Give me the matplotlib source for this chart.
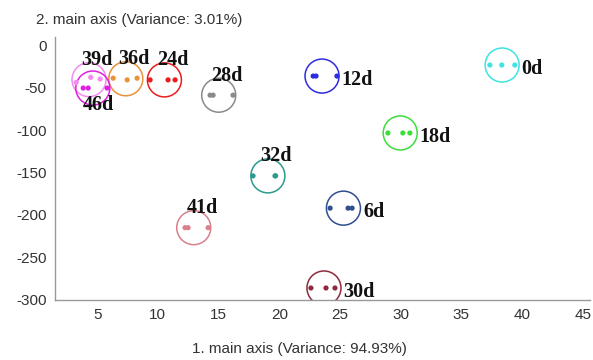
import matplotlib
matplotlib.use("Agg")
import matplotlib.pyplot as plt
import numpy as np

plt.rcParams["axes.unicode_minus"] = False

# Sample groups (storage day) with replicate scores on the first two main axes
groups = ["0d", "6d", "12d", "18d", "24d", "28d", "30d", "32d", "36d", "39d", "41d", "46d"]
pc1 = {
    "0d": [37.35, 38.33, 39.40],
    "6d": [24.19, 25.67, 26.00],
    "12d": [22.79, 23.03, 24.75],
    "18d": [28.95, 30.18, 30.76],
    "24d": [9.36, 10.84, 11.42],
    "28d": [14.30, 14.55, 16.19],
    "30d": [22.61, 23.85, 24.59],
    "32d": [17.84, 19.65, 19.70],
    "36d": [6.32, 7.47, 8.29],
    "39d": [3.27, 4.47, 5.25],
    "41d": [12.24, 12.49, 14.14],
    "46d": [3.85, 4.26, 5.82],
}
pc2 = {
    "0d": [-23.5, -23.5, -23.5],
    "6d": [-192.0, -192.0, -192.0],
    "12d": [-36.5, -36.5, -36.5],
    "18d": [-103.5, -103.5, -103.5],
    "24d": [-41.0, -41.0, -41.0],
    "28d": [-59.0, -59.0, -59.0],
    "30d": [-286.0, -286.0, -286.0],
    "32d": [-154.0, -154.0, -154.0],
    "36d": [-39.0, -41.0, -39.0],
    "39d": [-44.0, -38.0, -40.0],
    "41d": [-215.0, -215.0, -215.0],
    "46d": [-50.6, -50.6, -50.6],
}
colors = {
    "0d": "#3fe3e3",
    "6d": "#2f4f8f",
    "12d": "#2d2de0",
    "18d": "#3ddd3d",
    "24d": "#ec1c1c",
    "28d": "#8a8a8a",
    "30d": "#8c2b3e",
    "32d": "#2b9a8c",
    "36d": "#e8923a",
    "39d": "#f38cf0",
    "41d": "#d8808c",
    "46d": "#e020e0",
}
label_side = {
    "0d": "right", "6d": "right", "12d": "right", "18d": "right", "30d": "right",
    "24d": "above", "28d": "above", "32d": "above", "36d": "above", "39d": "above",
    "41d": "above", "46d": "below",
}

x_ticks = [5, 10, 15, 20, 25, 30, 35, 40, 45]
y_ticks = [0, -50, -100, -150, -200, -250, -300]
x_title = "1. main axis (Variance: 94.93%)"
y_title = "2. main axis (Variance: 3.01%)"

fig = plt.figure(figsize=(5.93, 3.60), dpi=100)
ax = fig.add_axes([0.093, 0.167, 0.902, 0.73])

offsets = {"right": (14, -3), "above": (6, 14), "below": (4, -12)}

for g in groups:
    xs = np.array(pc1[g])
    ys = np.array(pc2[g])
    c = colors[g]
    cx, cy = xs.mean(), ys.mean()
    ax.scatter([cx], [cy], s=600, facecolors="none", edgecolors=c, linewidths=1.1, zorder=2)
    ax.scatter(xs, ys, s=14, color=c, edgecolors="none", zorder=3)
    side = label_side[g]
    dx, dy = offsets[side]
    ha = "left" if side == "right" else "center"
    ax.annotate(g, (cx, cy), xytext=(dx, dy), textcoords="offset points",
                ha=ha, va="center", fontsize=14.5, fontweight="bold",
                family="Liberation Serif", color="#111111", zorder=4)

ax.set_xlim(1.54, 45.6)
ax.set_ylim(-300, 9.4)
ax.set_xticks(x_ticks)
ax.set_yticks(y_ticks)
ax.tick_params(length=0, labelsize=11, labelcolor="#333333", pad=6)
for lbl in ax.get_xticklabels() + ax.get_yticklabels():
    lbl.set_family("Liberation Sans")

for s in ("top", "right"):
    ax.spines[s].set_visible(False)
for s in ("left", "bottom"):
    ax.spines[s].set_color("#999999")
    ax.spines[s].set_linewidth(1.0)

fig.text(0.06, 0.945, y_title, fontsize=11, color="#333333", family="Liberation Sans",
         ha="left", va="center")
fig.text(0.505, 0.03, x_title, fontsize=11, color="#333333", family="Liberation Sans",
         ha="center", va="center")

fig.savefig("out.png", dpi=100, facecolor="white")
